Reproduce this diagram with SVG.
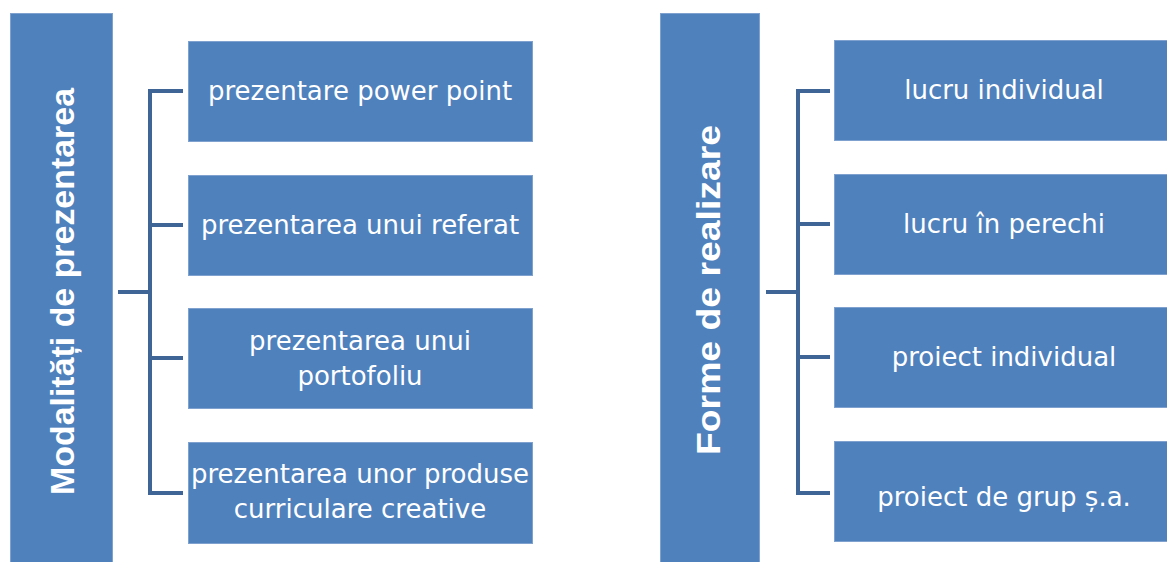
<svg xmlns="http://www.w3.org/2000/svg" width="1167" height="562" viewBox="0 0 1167 562">
<style>
.box{fill:#4F81BD;stroke:#7EA1CF;stroke-width:1}
.t{fill:#fff;font-family:"DejaVu Sans","Liberation Sans",sans-serif;font-size:26px;text-anchor:middle;dominant-baseline:central}
.h{fill:#fff;font-family:"Liberation Sans","DejaVu Sans",sans-serif;font-weight:bold;font-size:34px;text-anchor:middle;dominant-baseline:central}
.c{fill:none;stroke:#3E6595;stroke-width:4}
</style>
<rect width="1167" height="562" fill="#fff"/>
<g id="connectors">
<path class="c" d="M118 292H152M150 89V495M148 91H183M150 225H183M150 358H183M148 493H183"/>
<path class="c" d="M766 292H800M798 89V495M796 91H830M798 224H830M798 357H830M796 493H830"/>
</g>
<g id="root-left"><rect class="box" x="10.5" y="13.5" width="102" height="560"/><text class="h" transform="translate(62 291.5) rotate(-90)" textLength="407" lengthAdjust="spacingAndGlyphs">Modalități de prezentarea</text></g>
<g id="l1"><rect class="box" x="188.5" y="41.5" width="344" height="100"/><text class="t" x="360" y="91">prezentare power point</text></g>
<g id="l2"><rect class="box" x="188.5" y="175.5" width="344" height="100"/><text class="t" x="360" y="225">prezentarea unui referat</text></g>
<g id="l3"><rect class="box" x="188.5" y="308.5" width="344" height="100"/><text class="t" x="360" y="341">prezentarea unui</text><text class="t" x="360" y="376">portofoliu</text></g>
<g id="l4"><rect class="box" x="188.5" y="442.5" width="344" height="101"/><text class="t" x="360" y="474">prezentarea unor produse</text><text class="t" x="360" y="509">curriculare creative</text></g>
<g id="root-right"><rect class="box" x="660.5" y="13.5" width="99" height="560"/><text class="h" transform="translate(708 290) rotate(-90)" textLength="330" lengthAdjust="spacingAndGlyphs">Forme de realizare</text></g>
<g id="r1"><rect class="box" x="834.5" y="40.5" width="340" height="100"/><text class="t" x="1004" y="90">lucru individual</text></g>
<g id="r2"><rect class="box" x="834.5" y="174.5" width="340" height="100"/><text class="t" x="1004" y="224">lucru în perechi</text></g>
<g id="r3"><rect class="box" x="834.5" y="307.5" width="340" height="100"/><text class="t" x="1004" y="357">proiect individual</text></g>
<g id="r4"><rect class="box" x="834.5" y="441.5" width="340" height="100"/><text class="t" x="1004" y="497">proiect de grup ș.a.</text></g>
</svg>
